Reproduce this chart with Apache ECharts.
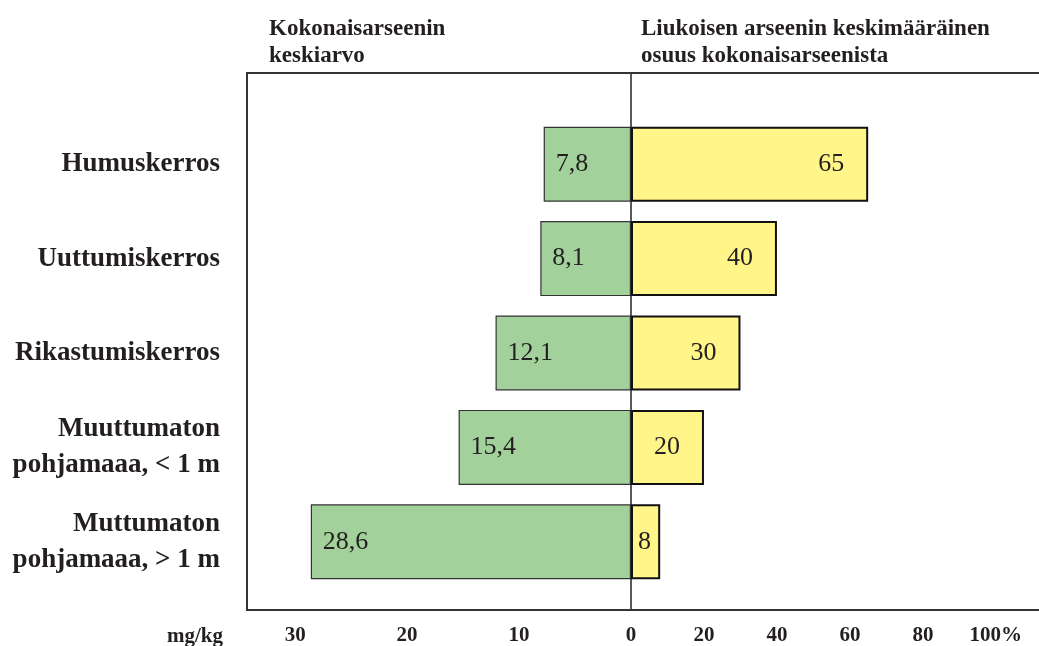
<!DOCTYPE html>
<html>
<head>
<meta charset="utf-8">
<script src="https://cdn.jsdelivr.net/npm/echarts@6/dist/echarts.min.js"></script>
<style>
  html, body { margin: 0; padding: 0; background: #fff; }
  #chart { width: 1039px; height: 646px; }
</style>
</head>
<body>
<div id="chart"></div>
<script>
// Soil layers, top to bottom
const layers = [
  'Humuskerros',
  'Uuttumiskerros',
  'Rikastumiskerros',
  'Muuttumaton\npohjamaaa, < 1 m',
  'Muttumaton\npohjamaaa, > 1 m'
];
// Mean total arsenic, mg/kg
const totalArsenic = [7.8, 8.1, 12.1, 15.4, 28.6];
// Mean share of soluble arsenic of total arsenic, %
const solubleShare = [65, 40, 30, 20, 8];
// Tick values for the two halves
const mgTicks = [0, 10, 20, 30];
const pctTicks = [0, 20, 40, 60, 80, 100];

const FONT = '"Liberation Serif", "Times New Roman", serif';
const INK = '#231f20';
const fmtComma = v => String(v).replace('.', ',');

// Narrow bars get their label tucked just inside the bar start
const shareData = solubleShare.map(v => v < 12
  ? { value: v, label: { position: 'insideLeft', distance: 7 } }
  : v);

const frameLine = { show: true, onZero: false, lineStyle: { color: '#333', width: 2 } };
const hiddenParts = { axisTick: { show: false }, axisLabel: { show: false }, splitLine: { show: false } };

const chart = echarts.init(document.getElementById('chart'), null, { renderer: 'canvas' });

chart.setOption({
  animation: false,
  backgroundColor: '#fff',
  title: [
    { text: 'Kokonaisarseenin\nkeskiarvo', left: 264, top: 11,
      textStyle: { fontFamily: FONT, fontWeight: 'bold', fontSize: 23, lineHeight: 27, color: INK } },
    { text: 'Liukoisen arseenin keskimääräinen\nosuus kokonaisarseenista', left: 636, top: 11,
      textStyle: { fontFamily: FONT, fontWeight: 'bold', fontSize: 23, lineHeight: 27, color: INK } },
    { text: 'mg/kg', left: 162, top: 621,
      textStyle: { fontFamily: FONT, fontWeight: 'bold', fontSize: 21, color: INK } }
  ],
  grid: [
    // left half: total arsenic
    { left: 247, width: 384, top: 117, height: 475 },
    // right half: soluble share
    { left: 631, width: 408, top: 117, height: 475 },
    // frame, open to the right, with the zero divider
    { left: 247, width: 792, top: 73, height: 537 }
  ],
  xAxis: [
    { gridIndex: 0, type: 'value', inverse: true, min: 0, max: 34.3, interval: 10,
      axisLine: { show: false }, axisTick: { show: false }, splitLine: { show: false },
      axisLabel: { margin: 36, fontFamily: FONT, fontWeight: 'bold', fontSize: 21, color: INK,
        formatter: v => (mgTicks.indexOf(v) >= 0 && v !== 0) ? String(v) : '' } },
    { gridIndex: 1, type: 'value', min: 0, max: 111, interval: 20,
      axisLine: { show: false }, axisTick: { show: false }, splitLine: { show: false },
      axisLabel: { margin: 36, fontFamily: FONT, fontWeight: 'bold', fontSize: 21, color: INK,
        formatter: v => pctTicks.indexOf(v) >= 0 ? (v === 100 ? '100%' : String(v)) : '' } },
    { gridIndex: 2, type: 'value', min: 0, max: 1, position: 'bottom', axisLine: frameLine, ...hiddenParts },
    { gridIndex: 2, type: 'value', min: 0, max: 1, position: 'top', axisLine: frameLine, ...hiddenParts }
  ],
  yAxis: [
    { gridIndex: 0, type: 'category', data: layers, inverse: true,
      axisLine: { show: false }, axisTick: { show: false },
      axisLabel: { margin: 27, align: 'right', fontFamily: FONT, fontWeight: 'bold', fontSize: 27,
        lineHeight: 36, color: INK } },
    { gridIndex: 1, type: 'category', data: layers, inverse: true, show: false },
    { gridIndex: 2, type: 'value', min: 0, max: 1, position: 'left', axisLine: frameLine, ...hiddenParts },
    // zero divider between the halves
    { gridIndex: 2, type: 'value', min: 0, max: 1, position: 'left', offset: -384,
      axisLine: { show: true, onZero: false, lineStyle: { color: '#222', width: 1.5 } }, ...hiddenParts }
  ],
  series: [
    { type: 'bar', xAxisIndex: 0, yAxisIndex: 0, data: totalArsenic, barWidth: 75,
      itemStyle: { color: '#a3d19b', borderColor: '#333', borderWidth: 1.2 },
      label: { show: true, position: 'insideLeft', distance: 12, fontFamily: FONT, fontSize: 26,
        color: INK, formatter: p => fmtComma(p.value) } },
    { type: 'bar', xAxisIndex: 1, yAxisIndex: 1, data: shareData, barWidth: 75,
      itemStyle: { color: '#fff588', borderColor: '#111', borderWidth: 2 },
      label: { show: true, position: 'insideRight', distance: 24, fontFamily: FONT, fontSize: 26,
        color: INK, formatter: p => String(p.value) } }
  ]
});
</script>
</body>
</html>
